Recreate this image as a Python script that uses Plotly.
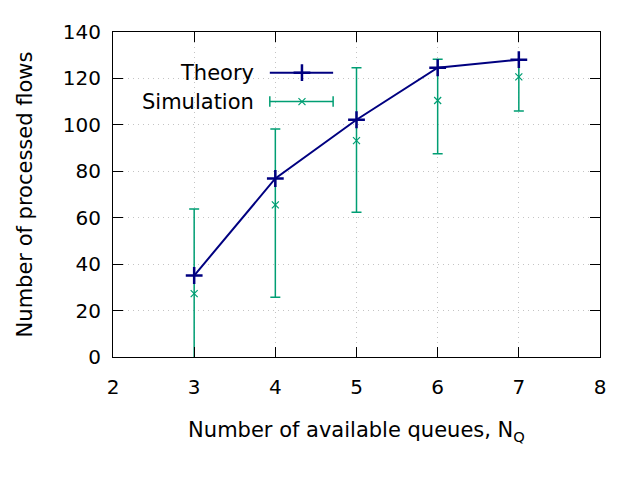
import plotly.graph_objects as go

queues = [3, 4, 5, 6, 7]
theory = [35.1, 76.9, 102.2, 124.6, 128.1]
sim_mean = [27.3, 65.5, 93.2, 110.5, 120.7]
sim_upper = [63.7, 98.2, 124.6, 128.3, 128.0]
sim_lower = [-9.0, 25.7, 62.4, 87.6, 106.0]

x_ticks = [2, 3, 4, 5, 6, 7, 8]
y_ticks = [0, 20, 40, 60, 80, 100, 120, 140]

NAVY = "#000080"
GREEN = "#009e73"
FONT = "DejaVu Sans"

fig = go.Figure()

fig.add_trace(go.Scatter(
    x=queues, y=sim_mean, mode="markers",
    marker=dict(symbol="x-thin", size=7, line=dict(color=GREEN, width=1.2)),
    error_y=dict(
        type="data", symmetric=False,
        array=[u - m for u, m in zip(sim_upper, sim_mean)],
        arrayminus=[m - l for m, l in zip(sim_mean, sim_lower)],
        color=GREEN, thickness=1.5, width=5,
    ),
    showlegend=False,
))

fig.add_trace(go.Scatter(
    x=queues, y=theory, mode="lines+markers",
    line=dict(color=NAVY, width=2),
    marker=dict(symbol="cross-thin", size=12, line=dict(color=NAVY, width=2.5)),
    showlegend=False,
))

# gnuplot-style key: text on the left, sample on the right
key_x0, key_x1, key_mid = 0.322, 0.452, 0.388
rows = [("Theory", 0.875), ("Simulation", 0.786)]
for label, ky in rows:
    fig.add_annotation(x=0.294, y=ky, xref="paper", yref="paper", text=label,
                       showarrow=False, xanchor="right", yanchor="middle",
                       font=dict(family=FONT, size=21, color="black"))

fig.add_shape(type="line", xref="paper", yref="paper", x0=key_x0, x1=key_x1,
              y0=rows[0][1], y1=rows[0][1], line=dict(color=NAVY, width=2))
fig.add_shape(type="line", xref="paper", yref="paper", x0=key_x0, x1=key_x1,
              y0=rows[1][1], y1=rows[1][1], line=dict(color=GREEN, width=1.5))
for cx in (key_x0, key_x1):
    fig.add_shape(type="line", xref="paper", yref="paper", x0=cx, x1=cx,
                  y0=rows[1][1] - 0.016, y1=rows[1][1] + 0.016,
                  line=dict(color=GREEN, width=1.5))

fig.add_trace(go.Scatter(
    x=[key_mid], y=[rows[0][1]], xaxis="x2", yaxis="y2", mode="markers",
    marker=dict(symbol="cross-thin", size=12, line=dict(color=NAVY, width=2.5)),
    showlegend=False, hoverinfo="skip",
))
fig.add_trace(go.Scatter(
    x=[key_mid], y=[rows[1][1]], xaxis="x2", yaxis="y2", mode="markers",
    marker=dict(symbol="x-thin", size=7, line=dict(color=GREEN, width=1.2)),
    showlegend=False, hoverinfo="skip",
))

axis_common = dict(
    showline=True, linecolor="black", linewidth=1.2, mirror="ticks",
    ticks="inside", ticklen=10, tickwidth=1.2, tickcolor="black",
    showgrid=True, gridcolor="#c4c4c4", griddash="1px,4px", gridwidth=1,
    zeroline=False, tickfont=dict(family=FONT, size=20, color="black"),
)

# the page body adds an 8px offset, so the figure is a little smaller
fig.update_layout(
    width=632, height=472,
    margin=dict(l=105, r=40, t=22, b=123),
    paper_bgcolor="white", plot_bgcolor="white",
    font=dict(family=FONT, size=21, color="black"),
    xaxis=dict(
        range=[2, 8], tickvals=x_ticks, ticktext=[str(v) for v in x_ticks],
        ticklabelstandoff=12,
        title=dict(text="Number of available queues, N<sub>Q</sub>",
                   font=dict(family=FONT, size=21), standoff=24),
        **axis_common,
    ),
    yaxis=dict(
        range=[0, 140], tickvals=y_ticks, ticktext=[str(v) for v in y_ticks],
        ticklabelstandoff=7,
        title=dict(text="Number of processed flows",
                   font=dict(family=FONT, size=21), standoff=24),
        **axis_common,
    ),
    xaxis2=dict(range=[0, 1], overlaying="x", visible=False, fixedrange=True),
    yaxis2=dict(range=[0, 1], overlaying="y", visible=False, fixedrange=True),
)

fig.write_html("out.html")
